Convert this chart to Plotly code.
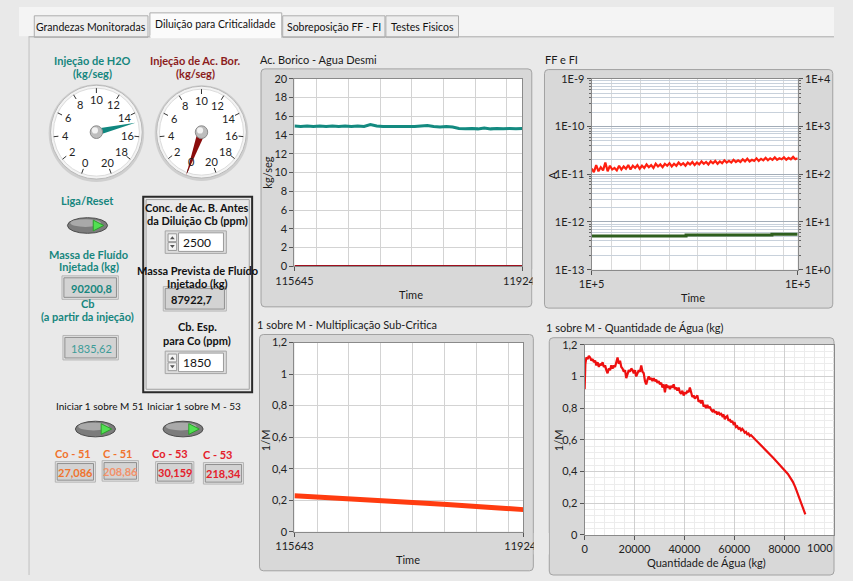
import math
import plotly.graph_objects as go

W, H = 853, 581
FONT = "Lato, 'Noto Sans', sans-serif"

# ------------------------------------------------------------------ data
tab_labels = ["Grandezas Monitoradas", "Diluição para Criticalidade",
              "Sobreposição FF - FI", "Testes Fisicos"]

gauge_labels = [0, 2, 4, 6, 8, 10, 12, 14, 16, 18, 20]
h2o_flow_now = 14.8
boric_flow_now = 0.0

massa_injetada = "90200,8"
cb_injecao = "1835,62"
conc_antes = "2500"
massa_prevista = "87922,7"
cb_esp = "1850"
co_51, c_51, co_53, c_53 = "27,086", "208,86", "30,159", "218,34"

# Ac. Borico - Agua Desmi
borico_time = list(range(115645, 119246, 100))
agua_desmi_flow = [14.95, 14.9, 14.95, 14.9, 14.95, 14.9, 14.95, 14.9, 14.95, 14.9, 14.95, 14.9, 15.1,
                   14.95, 14.9, 14.9, 14.85, 14.9, 14.85, 14.9, 14.95, 15.0, 14.9, 14.85, 14.9, 14.85,
                   14.7, 14.65, 14.7, 14.65, 14.75, 14.65, 14.7, 14.65, 14.7, 14.65, 14.7]
acido_time = [115645, 119245]
acido_flow = [0.0, 0.0]
top_time_ticks = [115645, 119245]
flow_ticks = [0, 2, 4, 6, 8, 10, 12, 14, 16, 18, 20]

# FF e FI
ff_time = list(range(115645, 119246, 40))
ff_current = [1.30e-11, 1.10e-11, 1.55e-11, 1.15e-11, 1.40e-11, 1.20e-11, 1.75e-11, 1.15e-11, 1.50e-11, 1.25e-11,
              1.35e-11, 1.20e-11, 1.50e-11, 1.25e-11, 1.45e-11, 1.30e-11, 1.55e-11, 1.25e-11, 1.50e-11, 1.35e-11,
              1.55e-11, 1.30e-11, 1.50e-11, 1.35e-11, 1.60e-11, 1.40e-11, 1.55e-11, 1.35e-11, 1.65e-11, 1.45e-11,
              1.60e-11, 1.40e-11, 1.65e-11, 1.50e-11, 1.70e-11, 1.45e-11, 1.65e-11, 1.50e-11, 1.75e-11, 1.55e-11,
              1.70e-11, 1.50e-11, 1.75e-11, 1.60e-11, 1.80e-11, 1.55e-11, 1.75e-11, 1.60e-11, 1.85e-11, 1.65e-11,
              1.80e-11, 1.60e-11, 1.85e-11, 1.70e-11, 1.90e-11, 1.65e-11, 1.85e-11, 1.70e-11, 1.95e-11, 1.75e-11,
              1.90e-11, 1.75e-11, 2.00e-11, 1.80e-11, 1.95e-11, 1.80e-11, 2.05e-11, 1.85e-11, 2.10e-11, 1.85e-11,
              2.00e-11, 1.90e-11, 2.15e-11, 1.90e-11, 2.10e-11, 1.95e-11, 2.20e-11, 1.95e-11, 2.15e-11, 2.00e-11,
              2.25e-11, 2.00e-11, 2.15e-11, 2.05e-11, 2.25e-11, 2.00e-11, 2.20e-11, 2.05e-11, 2.30e-11, 2.05e-11,
              2.15e-11]
fi_time = [115645, 117295, 118795, 119245]
fi_current = [5.07e-13, 5.3e-13, 5.55e-13, 5.55e-13]
ff_ticks = [1e-13, 1e-12, 1e-11, 1e-10, 1e-9]
ff_ticktext = ["1E-13", "1E-12", "1E-11", "1E-10", "1E-9"]
cps_ticks = [1, 10, 100, 1000, 10000]
cps_ticktext = ["1E+0", "1E+1", "1E+2", "1E+3", "1E+4"]
ff_time_text = ["1E+5", "1E+5"]

# 1 sobre M - Multiplicacao Sub-Critica
m_time = list(range(115643, 119244, 200))
inv_m_time = [0.228, 0.224, 0.219, 0.214, 0.211, 0.206, 0.201, 0.197, 0.192, 0.187,
              0.182, 0.177, 0.172, 0.167, 0.162, 0.156, 0.151, 0.146, 0.140]
bottom_time_ticks = [115643, 119243]
inv_m_ticks = [0, 0.2, 0.4, 0.6, 0.8, 1.0, 1.2]
inv_m_ticktext = ["0", "0,2", "0,4", "0,6", "0,8", "1", "1,2"]

# 1 sobre M - Quantidade de Agua
water_kg = [0, 300, 700, 1200, 1700, 2200, 2700, 3200, 3700, 4200,
            4700, 5200, 5700, 6200, 6700, 7200, 7700, 8200, 8700, 9200,
            9700, 10200, 10700, 11200, 11700, 12200, 12700, 13200, 13700, 14200,
            14700, 15200, 15700, 16200, 16700, 17200, 17700, 18200, 18700, 19200,
            19700, 20200, 20700, 21200, 21700, 22200, 22700, 23200, 23700, 24200,
            24700, 25200, 25700, 26200, 26700, 27200, 27700, 28200, 28700, 29200,
            29700, 30200, 30700, 31200, 31700, 32200, 32700, 33200, 33700, 34200,
            34700, 35200, 35700, 36200, 36700, 37200, 37700, 38200, 38700, 39200,
            39700, 40200, 40700, 41200, 41700, 42200, 42700, 43200, 43700, 44200,
            44700, 45200, 45700, 46200, 46700, 47200, 47700, 48200, 48700, 49200,
            49700, 50200, 50700, 51200, 51700, 52200, 52700, 53200, 53700, 54200,
            54700, 55200, 55700, 56200, 56700, 57200, 57700, 58200, 58700, 59200,
            59700, 60200, 60700, 61200, 61700, 62200, 62700, 63200, 63700, 64200,
            64700, 65200, 65700, 66200, 66700, 67500, 68500, 69500, 70500, 71500,
            72500, 73500, 74500, 75500, 76500, 77500, 78500, 79500, 80500, 81500,
            82500, 83500, 84500, 85500, 86500, 87500, 88500]
inv_m_water = [0.92, 1.08, 1.12, 1.11, 1.13, 1.12, 1.10, 1.11, 1.09, 1.10,
               1.07, 1.09, 1.06, 1.08, 1.07, 1.09, 1.06, 1.07, 1.04, 1.02,
               1.05, 1.04, 1.07, 1.05, 1.07, 1.06, 1.09, 1.12, 1.08, 1.10,
               1.06, 1.05, 1.03, 1.04, 0.99, 1.02, 1.04, 1.03, 1.05, 1.04,
               1.02, 1.04, 1.00, 1.02, 1.04, 1.03, 1.07, 1.03, 1.02, 0.97,
               0.95, 0.98, 1.00, 0.98, 0.99, 0.97, 0.99, 0.97, 0.98, 0.96,
               0.97, 0.95, 0.96, 0.93, 0.95, 0.90, 0.95, 0.93, 0.94, 0.92,
               0.94, 0.93, 0.95, 0.92, 0.93, 0.91, 0.93, 0.90, 0.89, 0.91,
               0.88, 0.90, 0.89, 0.91, 0.90, 0.93, 0.89, 0.87, 0.88, 0.86,
               0.87, 0.88, 0.84, 0.85, 0.83, 0.85, 0.81, 0.82, 0.80, 0.82,
               0.80, 0.81, 0.79, 0.78, 0.79, 0.77, 0.78, 0.76, 0.775, 0.76,
               0.765, 0.75, 0.76, 0.73, 0.745, 0.75, 0.72, 0.73, 0.71, 0.72,
               0.70, 0.705, 0.68, 0.685, 0.67, 0.675, 0.66, 0.67, 0.66, 0.645,
               0.65, 0.635, 0.64, 0.625, 0.63, 0.615, 0.60, 0.585, 0.57, 0.553,
               0.537, 0.52, 0.505, 0.488, 0.47, 0.455, 0.44, 0.42, 0.405, 0.385,
               0.36, 0.335, 0.30, 0.26, 0.215, 0.175, 0.13]
water_ticks = [0, 20000, 40000, 60000, 80000]
water_ticktext = ["0", "20000", "40000", "60000", "80000"]
water_last_tick = "1000"   # visible part of the clipped "100000" label

# ------------------------------------------------------------------ helpers
def X(px):
    return px / W


def Y(py):
    return 1 - py / H


shapes = []
annotations = []

PANEL = "#e9e9e9"
TEAL = "#16867e"
DARKRED = "#8c1c1c"


def rect(x0, y0, x1, y1, fill, line=None, lw=1, layer="below"):
    shapes.append(dict(type="rect", xref="paper", yref="paper",
                       x0=X(x0), x1=X(x1), y0=Y(y1), y1=Y(y0),
                       fillcolor=fill, line=dict(color=line or fill, width=lw if line else 0),
                       layer=layer))


def rrect(x0, y0, x1, y1, r, fill, line, lw=1):
    p = (f"M {X(x0 + r)} {Y(y0)} L {X(x1 - r)} {Y(y0)} Q {X(x1)} {Y(y0)} {X(x1)} {Y(y0 + r)} "
         f"L {X(x1)} {Y(y1 - r)} Q {X(x1)} {Y(y1)} {X(x1 - r)} {Y(y1)} "
         f"L {X(x0 + r)} {Y(y1)} Q {X(x0)} {Y(y1)} {X(x0)} {Y(y1 - r)} "
         f"L {X(x0)} {Y(y0 + r)} Q {X(x0)} {Y(y0)} {X(x0 + r)} {Y(y0)} Z")
    shapes.append(dict(type="path", xref="paper", yref="paper", path=p,
                       fillcolor=fill, line=dict(color=line, width=lw), layer="below"))


def circle(cx, cy, rx, ry, fill, line=None, lw=1, layer="below"):
    shapes.append(dict(type="circle", xref="paper", yref="paper",
                       x0=X(cx - rx), x1=X(cx + rx), y0=Y(cy + ry), y1=Y(cy - ry),
                       fillcolor=fill, line=dict(color=line or fill, width=lw if line else 0),
                       layer=layer))


def poly(pts, fill, line=None, lw=1, layer="below"):
    p = "M " + " L ".join(f"{X(a)} {Y(b)}" for a, b in pts) + " Z"
    shapes.append(dict(type="path", xref="paper", yref="paper", path=p,
                       fillcolor=fill, line=dict(color=line or fill, width=lw if line else 0),
                       layer=layer))


def seg(x0, y0, x1, y1, color, lw=1, layer="below"):
    shapes.append(dict(type="line", xref="paper", yref="paper",
                       x0=X(x0), x1=X(x1), y0=Y(y0), y1=Y(y1),
                       line=dict(color=color, width=lw), layer=layer))


def text(x, y, s, size=11, color="#111", bold=False, xanchor="center", angle=0):
    annotations.append(dict(xref="paper", yref="paper", x=X(x), y=Y(y),
                            text=f"<b>{s}</b>" if bold else s, showarrow=False,
                            font=dict(size=size, color=color, family=FONT),
                            xanchor=xanchor, yanchor="middle", textangle=angle, borderpad=0))


# ------------------------------------------------------------------ panel / tabs
rect(0, 0, W, 30, "#f4f4f4")
tabs = [(16, 135, 9), (137, 275, 6), (276, 383, 9), (384, 460, 9)]
for i, (a, b, t) in enumerate(tabs):
    rect(a, t, b, 31, "#fbfbfb" if i == 1 else "#eeeeee", "#adadad")
seg(10, 30.5, 136.5, 30.5, "#adadad")
seg(275.5, 30.5, W, 30.5, "#adadad")
seg(10.5, 30.5, 10.5, H, "#c0c0c0")
rect(137.5, 29, 274.5, 32, "#fbfbfb")
for i, (a, b, t) in enumerate(tabs):
    text((a + b) / 2, 17.5 if i == 1 else 20, tab_labels[i], size=10.5, color="#111")


# ------------------------------------------------------------------ gauges
def gauge(cx, cy, r, value, ncol, nlen, nw):
    circle(cx, cy + 1, r + 2, r + 2, "#cfcfcf")
    circle(cx, cy, r, r, "#f3f3f3", "#b9b9b9", 1)
    circle(cx, cy, r - 3, r - 3, "#ffffff", "#dcdcdc", 1)
    for v in gauge_labels:
        a = math.radians(250 - 16 * v)
        seg(cx + (r - 8) * math.cos(a), cy - (r - 8) * math.sin(a),
            cx + (r - 3) * math.cos(a), cy - (r - 3) * math.sin(a), "#333", 1)
        text(cx + (r - 15) * math.cos(a), cy - (r - 15) * math.sin(a), str(v), size=11, color="#222")
    a = math.radians(250 - 16 * value)
    dx, dy = math.cos(a), -math.sin(a)
    px_, py_ = math.sin(a), math.cos(a)
    poly([(cx + px_ * nw / 2, cy + py_ * nw / 2),
          (cx + dx * nlen, cy + dy * nlen),
          (cx - px_ * nw / 2, cy - py_ * nw / 2)], ncol)
    circle(cx, cy, 6.5, 6.5, "#bdbdbd", "#8c8c8c", 1)
    circle(cx - 1.5, cy - 1.8, 3.2, 3.2, "#f2f2f2")


text(76.7, 55, "Injeção de H2O", bold=True, color=TEAL)
text(76.7, 68.5, "(kg/seg)", bold=True, color=TEAL)
text(185, 55, "Injeção de Ac. Bor.", bold=True, color=DARKRED)
text(185, 68.5, "(kg/seg)", bold=True, color=DARKRED)
gauge(81, 128, 48, h2o_flow_now, "#10877f", 42, 7)
gauge(191, 128, 47, boric_flow_now, "#8a0c0c", 47, 8)


# ------------------------------------------------------------------ LEDs
def led(cx, cy):
    circle(cx, cy, 21, 8, "#7c7c7c", "#4c4c4c", 1)
    circle(cx - 2, cy - 2.5, 16, 4, "#a9a9a9")
    poly([(cx + 6, cy - 5.5), (cx + 6, cy + 5.5), (cx + 17, cy)], "#52e052", "#2b9e2b", 1)


text(71.7, 198.3, "Liga/Reset", bold=True, color=TEAL)
led(71.7, 223.5)


def indicator(x0, y0, x1, y1, s, color, bold=True, xt=None):
    rect(x0 - 2, y0 - 2, x1 + 2, y1 + 2, "#e2e2e2", "#b5b5b5")
    rect(x0, y0, x1, y1, "#d3d3d3", "#8f8f8f")
    text(xt if xt else (x0 + x1) / 2, (y0 + y1) / 2 + 0.5, s, size=11, color=color, bold=bold,
         xanchor="left" if xt else "center")


text(73, 253, "Massa de Fluído", bold=True, color=TEAL)
text(73, 265.5, "Injetada (kg)", bold=True, color=TEAL)
indicator(47, 277, 102, 297, massa_injetada, TEAL, xt=53)
text(71.7, 303.3, "Cb", bold=True, color=TEAL)
text(71.7, 316.7, "(a partir da injeção)", bold=True, color=TEAL)
indicator(48, 338, 102, 359, cb_injecao, "#3d9c98", bold=False, xt=53)

# big boxed group
rect(130, 194, 244, 394, PANEL, "#2a2a2a", 2)
rect(133, 197, 241, 391, PANEL, "#a0a0a0", 1)
text(186.7, 205, "Conc. de Ac. B. Antes", bold=True, color="#111")
text(186.7, 218.3, "da Diluição Cb (ppm)", bold=True, color="#111")


def spinner(y0, y1, s):
    rect(153, y0, 217, y1, "#dcdcdc", "#a5a5a5")
    ym = (y0 + y1) / 2
    rect(156, y0 + 3, 165, ym - 0.5, "#f4f4f4", "#9a9a9a")
    rect(156, ym + 0.5, 165, y1 - 3, "#f4f4f4", "#9a9a9a")
    poly([(158, ym - 3), (163, ym - 3), (160.5, ym - 6)], "#555")
    poly([(158, ym + 3), (163, ym + 3), (160.5, ym + 6)], "#555")
    rect(167, y0 + 2, 214, y1 - 2, "#ffffff", "#9a9a9a")
    text(171, ym + 0.5, s, size=12, color="#111", xanchor="left")


spinner(229, 252, conc_antes)
text(186.7, 270, "Massa Prevista de Fluído", bold=True, color="#111")
text(186.7, 283, "Injetado (kg)", bold=True, color="#111")
indicator(153, 288, 215, 309, massa_prevista, "#111", xt=158)
text(186.7, 326.7, "Cb. Esp.", bold=True, color="#111")
text(186.7, 341, "para Co (ppm)", bold=True, color="#111")
spinner(352, 375, cb_esp)

text(85, 408.3, "Iniciar 1 sobre M 51", size=10, color="#111")
text(183.5, 408.3, "Iniciar 1 sobre M - 53", size=10, color="#111")
led(80, 431.7)
led(171.7, 431.7)
ORANGE = "#f0732e"
RED = "#e4202b"
text(56.7, 456.7, "Co - 51", bold=True, color=ORANGE)
text(103.3, 456.7, "C - 51", bold=True, color=ORANGE)
text(158.3, 456.7, "Co - 53", bold=True, color=RED)
text(208.3, 457.7, "C - 53", bold=True, color=RED)
indicator(40, 467, 78, 484, co_51, ORANGE)
indicator(89, 466, 123, 483, c_51, "#f2916a")
indicator(145, 467, 181, 485, co_53, RED)
indicator(195, 468, 233, 486, c_53, RED)

# ------------------------------------------------------------------ chart frames
FRAME = "#d8d8d8"
rrect(253.3, 63.3, 536.7, 306.7, 4, FRAME, "#a2a2a2")
rrect(550, 64, 851.7, 308, 4, FRAME, "#a2a2a2")
rrect(251.7, 335, 538.3, 576.7, 4, FRAME, "#a2a2a2")
rrect(555, 338.3, 853, 581, 4, FRAME, "#a2a2a2")

P1 = (288.3, 73.3, 526.7, 265.3)
P2 = (599.3, 73.3, 815, 268.7)
P3 = (288.3, 343.3, 528, 536.7)
P4 = (592, 345.5, 852.5, 540)
for p in (P1, P2, P3, P4):
    rect(p[0], p[1], p[2], p[3], "#ffffff")

text(251.7, 54, "Ac. Borico - Agua Desmi", color="#1a1a1a", xanchor="left")
text(549, 54, "FF e FI", color="#1a1a1a", xanchor="left")
text(248, 325, "1 sobre M - Multiplicação Sub-Critica", color="#1a1a1a", xanchor="left")
text(551, 328, "1 sobre M - Quantidade de Água (kg)", color="#1a1a1a", xanchor="left")

text(260, 169, "kg/seg", color="#1a1a1a", angle=-90)
text(410.7, 294, "Time", color="#1a1a1a")
text(558.3, 171.7, "A", color="#1a1a1a", angle=-90)
text(705, 296.7, "Time", color="#1a1a1a")
text(258.3, 443.3, "1/M", color="#1a1a1a", angle=-90)
text(406.7, 565, "Time", color="#1a1a1a")
text(565, 443.3, "1/M", color="#1a1a1a", angle=-90)
text(720, 568.3, "Quantidade de Água (kg)", color="#1a1a1a")
text(853, 553, water_last_tick, color="#222", xanchor="right")

# clip overflowing end labels like the LabVIEW frame does
rect(537.5, 268, 549.5, 300, PANEL, layer="above")
rect(538.8, 538, 554.5, 560, PANEL, layer="above")

# ------------------------------------------------------------------ axes
TICKFONT = dict(size=11, color="#222", family=FONT)


def axis(domain, **kw):
    d = dict(domain=domain, showline=True, linecolor="#8a8a8a", linewidth=1, mirror=True,
             ticks="outside", ticklen=4, tickcolor="#555", tickwidth=1, tickfont=TICKFONT,
             zeroline=False, fixedrange=True, tickmode="array")
    d.update(kw)
    return d


def xdom(p):
    return [X(p[0]), X(p[2])]


def ydom(p):
    return [Y(p[3]), Y(p[1])]


time_grid = [116000, 116500, 117000, 117500, 118000, 118500, 119000]
GRID = "#d3d3d3"

layout = dict(
    width=W, height=H, autosize=False,
    margin=dict(l=0, r=0, t=0, b=0, pad=0),
    paper_bgcolor=PANEL, plot_bgcolor="#ffffff",
    showlegend=False, font=dict(family=FONT, size=11, color="#222"),
    shapes=shapes, annotations=annotations,
    xaxis=axis(xdom(P1), anchor="y", range=[115645, 119245], tickvals=top_time_ticks,
               ticktext=[str(v) for v in top_time_ticks], showgrid=False,
               minor=dict(tickmode="array", tickvals=time_grid, showgrid=True, gridcolor=GRID, ticks="")),
    yaxis=axis(ydom(P1), anchor="x", range=[0, 20], tickvals=flow_ticks,
               ticktext=[str(v) for v in flow_ticks], showgrid=True, gridcolor=GRID),
    xaxis2=axis(xdom(P2), anchor="y2", range=[115645, 119245], tickvals=top_time_ticks,
                ticktext=ff_time_text, showgrid=False,
                minor=dict(tickmode="array", tickvals=time_grid, showgrid=True, gridcolor="#d9d9d9", ticks="")),
    yaxis2=axis(ydom(P2), anchor="x2", type="log", range=[-13, -9], tickvals=ff_ticks,
                ticktext=ff_ticktext, showgrid=True, gridcolor="#a3adb8",
                minor=dict(tickmode="array",
                           tickvals=[k * 10.0 ** e for e in range(-13, -9) for k in range(2, 10)],
                           showgrid=True, gridcolor="#c8d1db", ticks="outside", ticklen=2, tickcolor="#666")),
    yaxis3=axis(ydom(P2), anchor="x2", overlaying="y2", side="right", type="log", range=[0, 4],
                tickvals=cps_ticks, ticktext=cps_ticktext, showgrid=False, mirror=False,
                minor=dict(tickmode="array",
                           tickvals=[k * 10.0 ** e for e in range(0, 4) for k in range(2, 10)],
                           showgrid=False, ticks="outside", ticklen=2, tickcolor="#666")),
    xaxis3=axis(xdom(P3), anchor="y4", range=[115643, 119243], tickvals=bottom_time_ticks,
                ticktext=[str(v) for v in bottom_time_ticks], showgrid=False,
                minor=dict(tickmode="array", tickvals=time_grid, showgrid=True, gridcolor=GRID, ticks="")),
    yaxis4=axis(ydom(P3), anchor="x3", range=[0, 1.2], tickvals=inv_m_ticks,
                ticktext=inv_m_ticktext, showgrid=True, gridcolor=GRID),
    xaxis4=axis(xdom(P4), anchor="y5", range=[0, 99800], tickvals=water_ticks,
                ticktext=water_ticktext, showgrid=True, gridcolor="#d0d0d0",
                minor=dict(tickmode="array", tickvals=[i * 4000 for i in range(25) if i % 5],
                           showgrid=True, gridcolor="#ececec", ticks="")),
    yaxis5=axis(ydom(P4), anchor="x4", range=[0, 1.2], tickvals=inv_m_ticks,
                ticktext=inv_m_ticktext, showgrid=True, gridcolor="#d0d0d0",
                minor=dict(tickmode="array", tickvals=[i * 0.04 for i in range(31) if i % 5],
                           showgrid=True, gridcolor="#ececec", ticks="")),
)

traces = [
    go.Scatter(x=borico_time, y=agua_desmi_flow, xaxis="x", yaxis="y", mode="lines",
               line=dict(color="#138a80", width=3), hoverinfo="skip"),
    go.Scatter(x=acido_time, y=acido_flow, xaxis="x", yaxis="y", mode="lines",
               line=dict(color="#a0101e", width=2.5), hoverinfo="skip", cliponaxis=False),
    go.Scatter(x=ff_time, y=ff_current, xaxis="x2", yaxis="y2", mode="lines",
               line=dict(color="#ff2010", width=2.2), hoverinfo="skip"),
    go.Scatter(x=fi_time, y=fi_current, xaxis="x2", yaxis="y2", mode="lines",
               line=dict(color="#2f5f1e", width=3, shape="hv"), hoverinfo="skip"),
    go.Scatter(x=[115645], y=[1], xaxis="x2", yaxis="y3", mode="markers",
               marker=dict(opacity=0), hoverinfo="skip"),
    go.Scatter(x=m_time, y=inv_m_time, xaxis="x3", yaxis="y4", mode="lines",
               line=dict(color="#ff3c10", width=5), hoverinfo="skip"),
    go.Scatter(x=water_kg, y=inv_m_water, xaxis="x4", yaxis="y5", mode="lines",
               line=dict(color="#ee1010", width=2.2), hoverinfo="skip"),
]

fig = go.Figure(data=traces, layout=layout)
fig.write_html("out.html", config={"displayModeBar": False, "staticPlot": True},
               post_script="document.body.style.margin='0px';document.body.style.overflow='hidden';")
